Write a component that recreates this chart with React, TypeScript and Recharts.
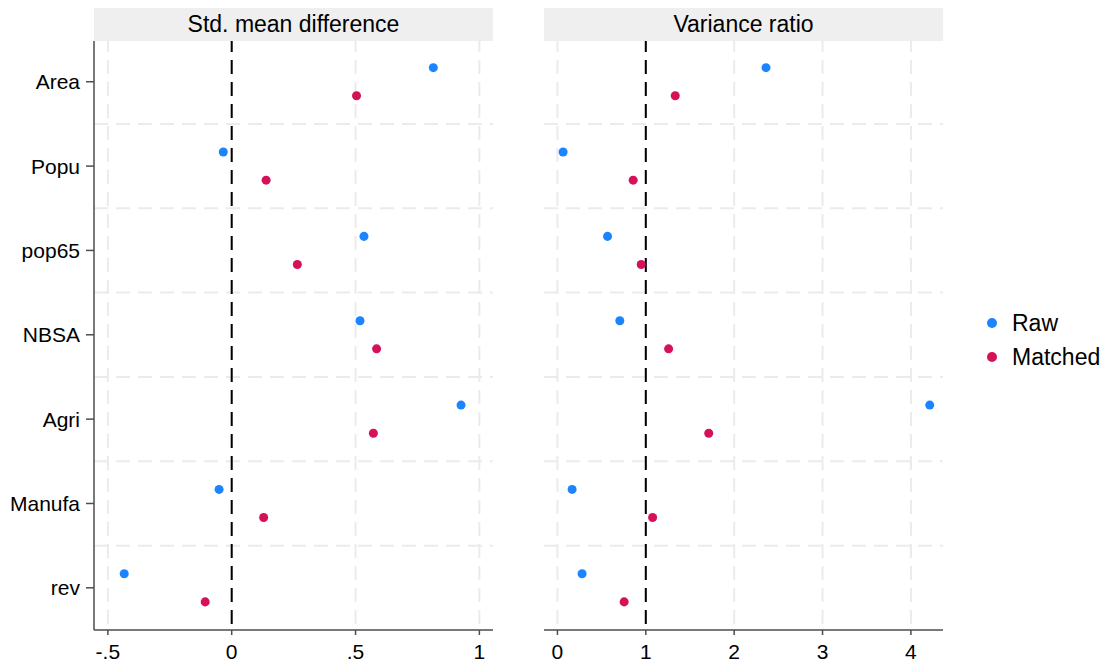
import React from "react"
import { ScatterChart, Scatter, XAxis, YAxis, ReferenceLine } from "recharts"

const categories = ["Area", "Popu", "pop65", "NBSA", "Agri", "Manufa", "rev"]
const seriesNames = ["Raw", "Matched"]
const seriesColors = ["#1a85ff", "#d41159"]

// standardized mean differences
const smdRaw = [0.814, -0.034, 0.534, 0.518, 0.926, -0.051, -0.434]
const smdMatched = [0.504, 0.139, 0.265, 0.585, 0.572, 0.129, -0.107]

// variance ratios
const vrRaw = [2.36, 0.064, 0.567, 0.706, 4.213, 0.166, 0.279]
const vrMatched = [1.333, 0.857, 0.948, 1.258, 1.712, 1.077, 0.755]

const smdTicks = [-0.5, 0, 0.5, 1]
const smdTickLabels = ["-.5", "0", ".5", "1"]
const vrTicks = [0, 1, 2, 3, 4]
const vrTickLabels = ["0", "1", "2", "3", "4"]

const rowTicks = categories.map((_, i) => i)
const rowGrid = categories.slice(1).map((_, i) => i + 0.5)

const FONT = '"Liberation Sans", Arial, Helvetica, sans-serif'
const GRID = "#ebebeb"
const AXIS = "#4d4d4d"

// raw sits a sixth of a row above the category, matched a sixth below
const toPoints = (values: number[], offset: number) =>
  values.map((v, i) => ({ x: v, y: i + offset }))

interface PanelProps {
  raw: number[]
  matched: number[]
  domain: [number, number]
  ticks: number[]
  tickLabels: string[]
  refValue: number
  showY: boolean
}

const Panel = ({ raw, matched, domain, ticks, tickLabels, refValue, showY }: PanelProps) => (
  <ScatterChart width={500} height={666} margin={{ top: 41, right: 7, bottom: 0, left: showY ? 0 : 94 }}>
    <XAxis
      type="number"
      dataKey="x"
      domain={domain}
      ticks={ticks}
      height={36}
      allowDataOverflow
      tickFormatter={(v: number) => tickLabels[ticks.indexOf(v)]}
      stroke={AXIS}
      strokeWidth={1.5}
      tickSize={5}
      tickMargin={9}
      tick={{ fill: "#000", fontSize: 21, fontFamily: FONT }}
    />
    <YAxis
      type="number"
      dataKey="y"
      domain={[-0.483, 6.5]}
      reversed
      hide={!showY}
      width={94}
      ticks={rowTicks}
      interval={0}
      allowDataOverflow
      tickFormatter={(v: number) => categories[v]}
      stroke={AXIS}
      strokeWidth={1.5}
      tickSize={8}
      tickMargin={6}
      tick={{ fill: "#000", fontSize: 21, fontFamily: FONT }}
    />
    {rowGrid.map((g) => (
      <ReferenceLine key={"h" + g} y={g} stroke={GRID} strokeWidth={2} strokeDasharray="14 8" />
    ))}
    {ticks.map((t) => (
      <ReferenceLine key={"v" + t} x={t} stroke={GRID} strokeWidth={2} strokeDasharray="14 8" strokeDashoffset={-6} />
    ))}
    <ReferenceLine x={refValue} stroke="#000" strokeWidth={2} strokeDasharray="14 8" strokeDashoffset={-6} />
    <Scatter name={seriesNames[0]} data={toPoints(raw, -1 / 6)} fill={seriesColors[0]} shape="circle" isAnimationActive={false} />
    <Scatter name={seriesNames[1]} data={toPoints(matched, 1 / 6)} fill={seriesColors[1]} shape="circle" isAnimationActive={false} />
  </ScatterChart>
)

const headerStyle = (left: number): React.CSSProperties => ({
  position: "absolute",
  left,
  top: 8,
  width: 399,
  height: 33,
  background: "#efefef",
  fontFamily: FONT,
  fontSize: 23,
  lineHeight: "33px",
  textAlign: "center",
  color: "#000",
})

export default function App() {
  return (
    <div style={{ position: "absolute", left: 0, top: 0, width: 1113, height: 666, background: "#fff", fontFamily: FONT }}>
      <div style={headerStyle(94)}>Std. mean difference</div>
      <div style={headerStyle(544)}>Variance ratio</div>
      <div style={{ position: "absolute", left: 0, top: 0 }}>
        <Panel raw={smdRaw} matched={smdMatched} domain={[-0.556, 1.055]} ticks={smdTicks} tickLabels={smdTickLabels} refValue={0} showY />
      </div>
      <div style={{ position: "absolute", left: 450, top: 0 }}>
        <Panel raw={vrRaw} matched={vrMatched} domain={[-0.152, 4.363]} ticks={vrTicks} tickLabels={vrTickLabels} refValue={1} showY={false} />
      </div>
      {seriesNames.map((name, i) => (
        <div key={name} style={{ position: "absolute", left: 987, top: 308 + i * 34, height: 30, display: "flex", alignItems: "center", fontSize: 23, color: "#000" }}>
          <span style={{ width: 10, height: 10, borderRadius: 5, background: seriesColors[i], marginRight: 15 }} />
          {name}
        </div>
      ))}
    </div>
  )
}
